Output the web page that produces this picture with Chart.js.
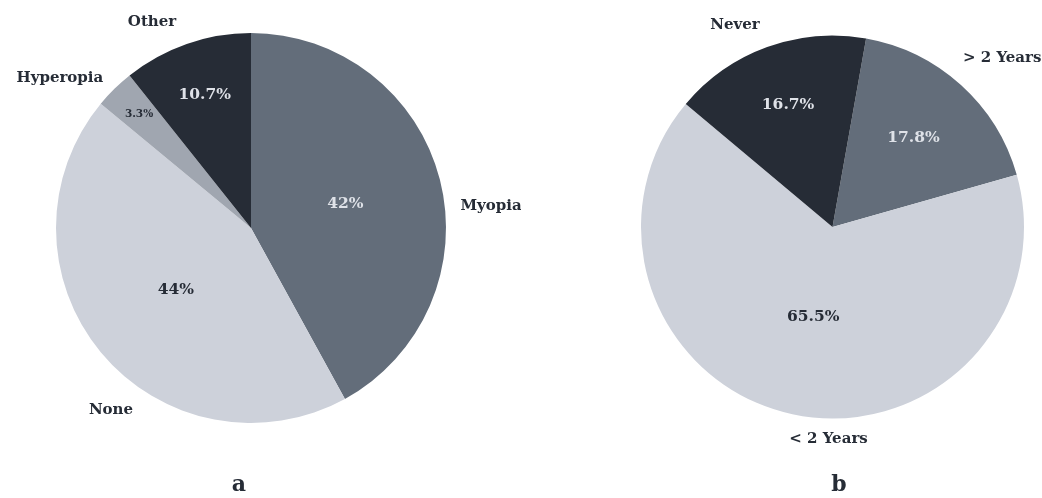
<!DOCTYPE html>
<html>
<head>
<meta charset="utf-8">
<script src="https://cdn.jsdelivr.net/npm/chart.js@4.4.0/dist/chart.umd.min.js"></script>
<style>
  html, body { margin: 0; padding: 0; background: #ffffff; }
  body { width: 1042px; height: 498px; position: relative; overflow: hidden; }
  .wrap { position: absolute; top: 0; height: 498px; width: 521px; }
  .cap { position: absolute; font-family: "DejaVu Serif", serif; font-weight: bold; font-size: 22px; color: #262c36; transform: translateX(-50%); }
</style>
</head>
<body>
<div class="wrap" style="left:0"><canvas id="pieA" width="521" height="498"></canvas></div>
<div class="wrap" style="left:521px"><canvas id="pieB" width="521" height="498"></canvas></div>
<div class="cap" style="left:239px; top:470px;">a</div>
<div class="cap" style="left:839px; top:470px;">b</div>
<script>
// ---- Data ----
const catsA = ["Myopia", "None", "Hyperopia", "Other"];
const valsA = [42, 44, 3.3, 10.7];
const pctA = ["42%", "44%", "3.3%", "10.7%"];

const catsB = ["> 2 Years", "< 2 Years", "Never"];
const valsB = [17.8, 65.5, 16.7];
const pctB = ["17.8%", "65.5%", "16.7%"];

// ---- Styles ----
const colorsA = ["#636d7a", "#cdd1da", "#a0a6b0", "#262c36"];
const colorsB = ["#636d7a", "#cdd1da", "#262c36"];

const FONT = '"DejaVu Serif", serif';
const DARK = "#262c36";
const LIGHT = "#dfe2e8";

// label layout (angle offsets in degrees from the slice's mid angle, radius factor)
const layoutA = {
  outer: [{da: 9.2, rf: 1.236}, {da: -12.8, rf: 1.177}, {da: -7.4, rf: 1.246}, {da: -6.4, rf: 1.172}],
  inner: [{rf: 0.50, size: 15.5, color: LIGHT}, {rf: 0.50, size: 15.5, color: DARK}, {rf: 0.82, size: 10.5, color: DARK}, {rf: 0.72, size: 15.5, color: LIGHT}]
};
const layoutB = {
  outer: [{da: 3.0, rf: 1.25}, {da: -11, rf: 1.11}, {da: -5.8, rf: 1.172}],
  inner: [{rf: 0.63, size: 15.5, color: LIGHT}, {rf: 0.48, size: 15.5, color: DARK}, {rf: 0.68, size: 15.5, color: LIGHT}]
};

const labelPlugin = {
  id: 'pieLabels',
  afterDatasetsDraw(chart, args, opts) {
    const ctx = chart.ctx;
    const meta = chart.getDatasetMeta(0);
    const cats = chart.data.labels;
    ctx.save();
    ctx.textAlign = 'center';
    ctx.textBaseline = 'middle';
    meta.data.forEach((arc, i) => {
      const p = arc.getProps(['x', 'y', 'startAngle', 'endAngle', 'outerRadius'], true);
      const mid = (p.startAngle + p.endAngle) / 2;
      // inner percentage
      const inn = opts.layout.inner[i];
      const ri = p.outerRadius * inn.rf;
      ctx.font = 'bold ' + inn.size + 'px ' + FONT;
      ctx.fillStyle = inn.color;
      ctx.fillText(opts.pct[i], p.x + Math.cos(mid) * ri, p.y + Math.sin(mid) * ri);
      // outer category label
      const out = opts.layout.outer[i];
      const a = mid + out.da * Math.PI / 180;
      const ro = p.outerRadius * out.rf;
      ctx.font = 'bold 15px ' + FONT;
      ctx.fillStyle = DARK;
      ctx.fillText(cats[i], p.x + Math.cos(a) * ro, p.y + Math.sin(a) * ro);
    });
    ctx.restore();
  }
};

function makePie(id, cats, vals, colors, rotation, padding, pct, layout) {
  return new Chart(document.getElementById(id), {
    type: 'pie',
    data: {
      labels: cats,
      datasets: [{ data: vals, backgroundColor: colors, borderWidth: 0 }]
    },
    options: {
      responsive: false,
      animation: false,
      rotation: rotation,
      layout: { padding: padding },
      plugins: {
        legend: { display: false },
        tooltip: { enabled: false },
        pieLabels: { pct: pct, layout: layout }
      }
    },
    plugins: [labelPlugin]
  });
}

makePie('pieA', catsA, valsA, colorsA, 0, {left: 56, right: 75, top: 33, bottom: 75}, pctA, layoutA);
makePie('pieB', catsB, valsB, colorsB, 10.1, {left: 120, right: 18, top: 35, bottom: 79}, pctB, layoutB);
</script>
</body>
</html>
